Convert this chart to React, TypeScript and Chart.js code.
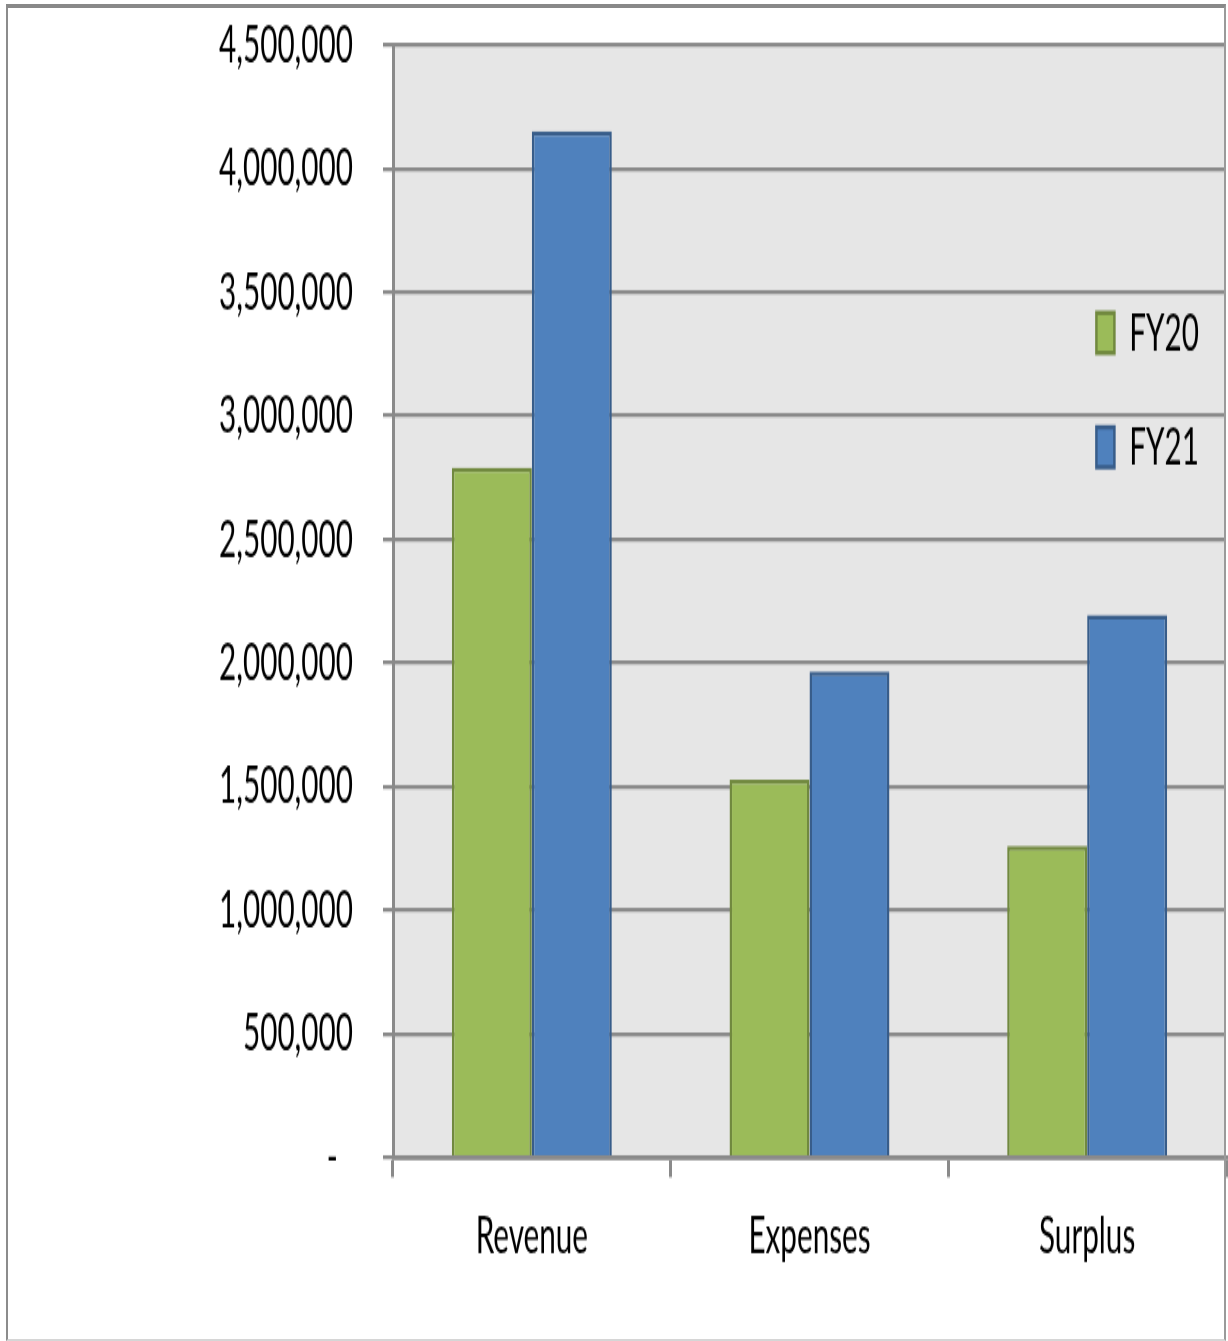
import React, { useEffect, useRef } from 'react';
import { Chart, registerables } from 'chart.js';

Chart.register(...registerables);

// ---- data ----
const categories = ['Revenue', 'Expenses', 'Surplus'];
const seriesNames = ['FY20', 'FY21'];
const fy20Values = [2790000, 1528000, 1260000];
const fy21Values = [4152000, 1965000, 2195000];
const yMin = 0;
const yMax = 4500000;
const yStep = 500000;

// ---- presentation ----
const SCALE_Y = 1.78; // the reference is stretched vertically
const W = 1228;
const H = 753.4;
const FONT = "Lato, 'Open Sans', sans-serif";
const FSIZE = 29.7;
const GRID = '#8a8a8a';

const bgPlugin = {
  id: 'plotBgAndLegend',
  beforeDraw(chart: any) {
    const { ctx, chartArea } = chart;
    ctx.save();
    ctx.fillStyle = '#e6e6e6';
    ctx.fillRect(chartArea.left, chartArea.top, chartArea.right - chartArea.left, chartArea.bottom - chartArea.top);
    ctx.restore();
    const lg = chart.legend;
    if (lg) {
      const w = lg.width;
      const h = lg.height;
      lg.left = 1062;
      lg.right = 1062 + w;
      lg.top = 137.8;
      lg.bottom = 137.8 + h;
    }
  },
};

export default function App() {
  const ref = useRef<HTMLCanvasElement | null>(null);

  useEffect(() => {
    if (!ref.current) return;
    const chart = new Chart(ref.current, {
      type: 'bar',
      data: {
        labels: categories,
        datasets: [
          {
            label: seriesNames[0],
            data: fy20Values,
            backgroundColor: '#9bbb59',
            borderColor: '#71893f',
            borderWidth: 2.5,
          },
          {
            label: seriesNames[1],
            data: fy21Values,
            backgroundColor: '#4f81bd',
            borderColor: '#385d8a',
            borderWidth: 2.5,
          },
        ],
      },
      options: {
        responsive: false,
        animation: false,
        devicePixelRatio: 1,
        layout: { padding: { left: 0, right: 2, top: 25.3, bottom: 0 } },
        datasets: {
          bar: { categoryPercentage: 0.576, barPercentage: 1 },
        } as any,
        plugins: {
          tooltip: { enabled: false },
          legend: {
            display: true,
            position: 'chartArea' as any,
            align: 'start',
            labels: {
              boxWidth: 18,
              boxHeight: 22.5,
              padding: 34.4,
              color: '#000',
              font: { family: FONT, size: FSIZE },
            },
          },
        },
        scales: {
          x: {
            offset: true,
            grid: {
              display: true,
              drawOnChartArea: false,
              drawTicks: true,
              tickLength: 11.2,
              color: GRID,
              lineWidth: 3,
            },
            border: { display: true, color: GRID, width: 2.8 },
            ticks: {
              color: '#000',
              padding: 15.5,
              font: { family: FONT, size: FSIZE },
              maxRotation: 0,
            },
            afterFit(scale: any) {
              scale.height = H - 650.6;
              scale.paddingLeft = 0;
              scale.paddingRight = 0;
            },
          },
          y: {
            min: yMin,
            max: yMax,
            grid: {
              display: true,
              color: GRID,
              lineWidth: 2.25,
              tickLength: 10,
            },
            border: { display: true, color: GRID, width: 3 },
            ticks: {
              stepSize: yStep,
              color: '#000',
              padding: 30,
              font: { family: FONT, size: FSIZE },
              callback: (v: any) => (Number(v) === 0 ? '-  ' : Number(v).toLocaleString('en-US')),
            },
            afterFit(scale: any) {
              scale.width = 393;
              scale.paddingTop = 0;
              scale.paddingBottom = 0;
            },
          },
        },
      },
      plugins: [bgPlugin],
    });
    return () => chart.destroy();
  }, []);

  return (
    <div style={{ position: 'absolute', left: 0, top: 0, width: 1228, height: 1341, overflow: 'hidden', background: '#fff' }}>
      <canvas
        ref={ref}
        width={W}
        height={H}
        style={{
          position: 'absolute',
          left: 0,
          top: 0,
          width: W + 'px',
          height: H + 'px',
          transform: `scaleY(${SCALE_Y})`,
          transformOrigin: 'top left',
        }}
      />
      <div
        style={{
          position: 'absolute',
          left: 6,
          top: 4,
          width: 1216,
          height: 1331,
          borderTop: '4px solid #898989',
          borderLeft: '2px solid #8c8c8c',
          borderRight: '2px solid #9a9a9a',
          borderBottom: '2px solid #d6d6d6',
          pointerEvents: 'none',
        }}
      />
    </div>
  );
}
